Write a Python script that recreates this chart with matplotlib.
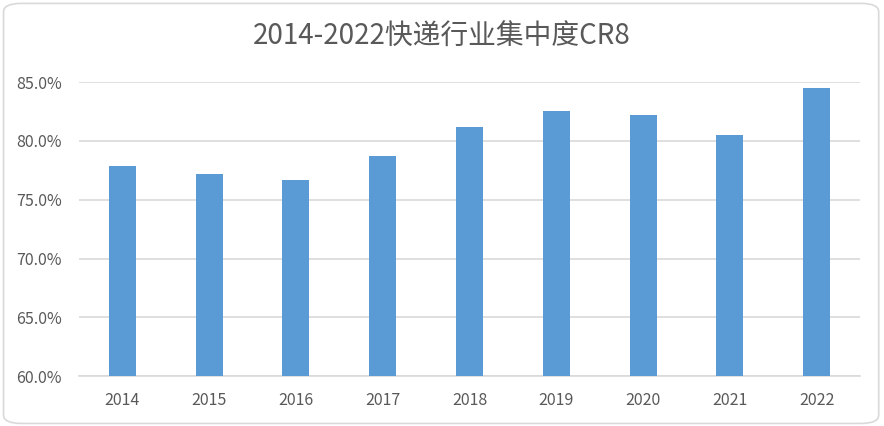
import matplotlib
matplotlib.use("Agg")
import matplotlib.pyplot as plt
from matplotlib.patches import FancyBboxPatch
from matplotlib.ticker import FuncFormatter

plt.rcParams["font.family"] = ["Noto Sans CJK SC", "DejaVu Sans"]

years = ["2014", "2015", "2016", "2017", "2018", "2019", "2020", "2021", "2022"]
cr8 = [77.9, 77.2, 76.7, 78.7, 81.2, 82.5, 82.2, 80.5, 84.5]

fig = plt.figure(figsize=(8.84, 4.26), dpi=100)
ax = fig.add_axes([79 / 884, 1 - 376.3 / 426, 781 / 884, 294.3 / 426])

# rounded chart border
border = FancyBboxPatch((0.004, 0.006), 0.99, 0.986,
                        boxstyle="round,pad=0,rounding_size=0.02",
                        transform=fig.transFigure, facecolor="white",
                        edgecolor="#d9d9d9", linewidth=1.2, zorder=-10)
fig.patches.append(border)

x = range(len(years))
ax.bar(x, cr8, width=0.31, color="#5b9bd5", zorder=3)

ax.set_xlim(-0.5, len(years) - 0.5)
ax.set_ylim(60, 85)
ax.set_yticks([60, 65, 70, 75, 80, 85])
ax.yaxis.set_major_formatter(FuncFormatter(lambda v, p: f"{v:.1f}%"))
ax.set_xticks(list(x))
ax.set_xticklabels(years)

ax.grid(axis="y", color="#d9d9d9", linewidth=1.2, zorder=0)
for s in ["top", "right", "left"]:
    ax.spines[s].set_visible(False)
ax.spines["bottom"].set_color("#d9d9d9")
ax.spines["bottom"].set_linewidth(1.2)
ax.tick_params(axis="both", length=0, labelsize=11.5, colors="#595959")
ax.tick_params(axis="x", pad=11.5)
ax.tick_params(axis="y", pad=12.5)
ax.patch.set_alpha(0)

fig.text(0.5, 1 - 37 / 426, "2014-2022快递行业集中度CR8", ha="center", va="center",
         fontsize=20, color="#595959")

fig.savefig("out.png", dpi=100)
